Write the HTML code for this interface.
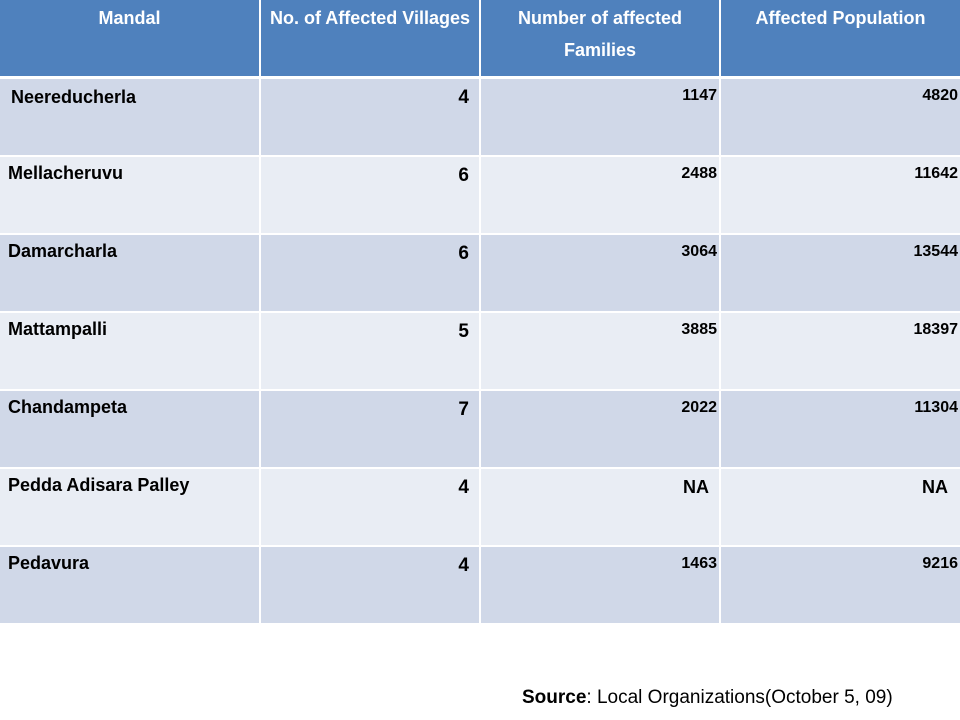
<!DOCTYPE html>
<html><head><meta charset="utf-8"><style>
body{margin:0;width:960px;height:720px;background:#fff;position:relative;font-family:"Liberation Sans",Arial,sans-serif;overflow:hidden}
.c{position:absolute;box-sizing:border-box;font-weight:bold;color:#000}
.h{background:#4F81BD;color:#fff;text-align:center;font-size:18px;line-height:32px;padding-top:2px}
.a{background:#D0D8E8}.b{background:#E9EDF4}
.n{font-size:18px;padding:6px 0 0 8px}
.v{font-size:19px;text-align:right;padding:8px 10px 0 0}
.f{font-size:16px;text-align:right;padding:8px 2px 0 0}
</style></head><body>
<div id="t"></div>
<div style="position:absolute;left:522px;top:687px;font-size:19px;color:#000"><b>Source</b>: Local Organizations(October 5, 09)</div>
<script>
const headers=["Mandal","No. of Affected Villages","Number of affected Families","Affected Population"];
const mandals=["Neereducherla","Mellacheruvu","Damarcharla","Mattampalli","Chandampeta","Pedda Adisara Palley","Pedavura"];
const villages=["4","6","6","5","7","4","4"];
const families=["1147","2488","3064","3885","2022","NA","1463"];
const population=["4820","11642","13544","18397","11304","NA","9216"];
const xs=[0,261,481,721,960];
const t=document.getElementById('t');
function cell(x,y,w,h,cls,txt,name){const d=document.createElement('div');d.className='c '+cls;
d.style.left=x+'px';d.style.top=y+'px';d.style.width=w+'px';d.style.height=h+'px';d.textContent=txt;


t.appendChild(d);return d;}
headers.forEach((h,i)=>{cell(xs[i],0,xs[i+1]-xs[i]-(i<3?2:0),76,'h',h,'header-'+i);});
mandals.forEach((m,r)=>{const y=79+r*78;const bg=r%2?'b':'a';const hh=r==0?76:76;
const y0=r==0?79:y;
const c0=cell(xs[0],y0,259,hh,bg+' n',m,'mandal-cell');if(r==0){c0.style.paddingLeft='11px';c0.style.paddingTop='8px';}
cell(xs[1],y0,218,hh,bg+' v',villages[r],'villages-cell');
const f=cell(xs[2],y0,238,hh,bg+' f',families[r],'families-cell');
const p=cell(xs[3],y0,239,hh,bg+' f',population[r],'population-cell');
if(families[r]=='NA'){f.style.paddingRight='10px';f.style.fontSize='18px';p.style.paddingRight='12px';p.style.fontSize='18px';}
});
</script>
</body></html>
